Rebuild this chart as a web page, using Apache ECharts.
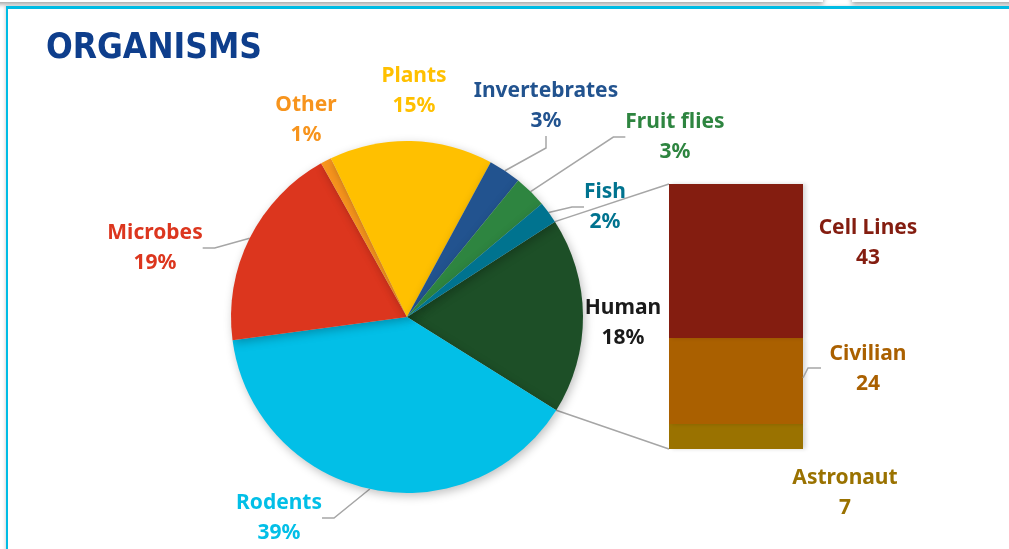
<!DOCTYPE html>
<html>
<head>
<meta charset="utf-8">
<script src="https://cdn.jsdelivr.net/npm/echarts@6/dist/echarts.min.js"></script>
<style>
  html, body { margin: 0; padding: 0; width: 1009px; height: 549px; overflow: hidden; background: #fff; }
  .shadowA { position: absolute; left: -20px; top: -20px; width: 843px; height: 22px; background: #fff; box-shadow: 0 2px 5px rgba(0,0,0,0.4); }
  .shadowB { position: absolute; left: 852px; top: -20px; width: 200px; height: 22px; background: #fff; box-shadow: 0 2px 5px rgba(0,0,0,0.4); }
  .card { position: absolute; left: 6px; top: 6px; width: 1020px; height: 560px; border-top: 3px solid #00BCE4; border-left: 2px solid #00BCE4; box-shadow: -1px 0 3px rgba(0,0,0,0.15); background: #fff; }
  #chart { position: absolute; left: 0; top: 0; width: 1009px; height: 549px; }
</style>
</head>
<body>
<div class="shadowA"></div>
<div class="shadowB"></div>
<div class="card"></div>
<div id="chart"></div>
<script>
// ---- data ----
const pieNames = ['Human', 'Rodents', 'Microbes', 'Other', 'Plants', 'Invertebrates', 'Fruit flies', 'Fish'];
const pieValues = [18, 39, 19, 1, 15, 3, 3, 2];
const barNames = ['Astronaut', 'Civilian', 'Cell Lines'];
const barValues = [7, 24, 43];
const titleText = 'ORGANISMS';

// ---- styles ----
const pieColors = ['#1D4F27', '#02BFE7', '#DC361E', '#F7941D', '#FFC000', '#22538F', '#2E8540', '#00738F'];
const pieLabelColors = ['#1a1a1a', '#02BFE7', '#DC361E', '#F7941D', '#FFC000', '#22538F', '#2E8540', '#00738F'];
const pieLeader = [false, true, true, false, false, true, true, true];
const barColors = ['#9A7200', '#AA6000', '#841D10'];
const pieLabelPos = [[623, 323], [279, 518], [155, 248], [306, 120], [414, 91], [546, 106], [675, 137], [605, 207]];
const FONT = '"Noto Sans", sans-serif';
const PIE_C = [407, 317], PIE_R = 176, START = 32.8;
const GRID = { left: 669, top: 184, width: 134, height: 265 };
const LINE = '#A6A6A6';

const chart = echarts.init(document.getElementById('chart'));

const pieData = pieNames.map((n, i) => ({
  name: n, value: pieValues[i],
  itemStyle: { color: pieColors[i] },
  label: { color: pieLabelColors[i] },
  labelLine: { show: pieLeader[i] }
}));

const barTotal = barValues.reduce((a, b) => a + b, 0);
const barLabelOffsets = [[42, 57], [65, -12], [65, -18]];

const barSeries = barNames.map((n, i) => ({
  type: 'bar', name: n, stack: 'h', barWidth: '100%',
  data: [barValues[i]],
  itemStyle: { color: barColors[i], shadowBlur: 4, shadowColor: 'rgba(0,0,0,0.15)', shadowOffsetX: 3, shadowOffsetY: 0 },
  label: {
    show: true, position: ['100%', '50%'], align: 'center', verticalAlign: 'middle',
    offset: barLabelOffsets[i],
    formatter: '{a}\n{c}', color: barColors[i], fontFamily: FONT, fontWeight: 'bold', fontSize: 21, lineHeight: 30
  },
  z: 3
}));

chart.setOption({
  animation: false,
  title: { text: titleText, left: 41, top: 26, textStyle: { fontFamily: '"DejaVu Sans Condensed", "DejaVu Sans", sans-serif', fontWeight: 'bold', fontSize: 35, color: '#0E3E8C' } },
  grid: { left: GRID.left, top: GRID.top, width: GRID.width, height: GRID.height },
  xAxis: { type: 'category', data: ['Human'], show: false },
  yAxis: { type: 'value', min: 0, max: barTotal, show: false },
  series: [
    {
      type: 'pie', center: PIE_C, radius: PIE_R, startAngle: START, clockwise: true,
      percentPrecision: 0,
      data: pieData,
      itemStyle: { shadowBlur: 10, shadowColor: 'rgba(0,0,0,0.25)', shadowOffsetX: 2, shadowOffsetY: 3 },
      label: { show: true, formatter: '{b}\n{d}%', fontFamily: FONT, fontWeight: 'bold', fontSize: 21, lineHeight: 30 },
      labelLine: { show: true, length: 12, length2: 12, lineStyle: { color: LINE, width: 1.5 } },
      labelLayout: function (p) {
        const pos = pieLabelPos[p.dataIndex];
        return { x: pos[0], y: pos[1], align: 'center', verticalAlign: 'middle' };
      },
      z: 2
    }
  ].concat(barSeries)
});

// connector lines from the Human slice boundaries to the bar corners
const pieTotal = pieValues.reduce((a, b) => a + b, 0);
const humanSpan = pieValues[0] / pieTotal * 360;
function piePt(deg) {
  const r = deg * Math.PI / 180;
  return [PIE_C[0] + PIE_R * Math.cos(r), PIE_C[1] - PIE_R * Math.sin(r)];
}
const pTop = piePt(START);
const pBot = piePt(START - humanSpan);
const yTop = chart.convertToPixel({ yAxisIndex: 0 }, barTotal);
const yBot = chart.convertToPixel({ yAxisIndex: 0 }, 0);
const xLeft = GRID.left, xRight = GRID.left + GRID.width;
// Civilian leader line: from the middle of its segment to its label
const civMid = chart.convertToPixel({ yAxisIndex: 0 }, barValues[0] + barValues[1] / 2);
chart.setOption({
  graphic: [
    { type: 'line', shape: { x1: pTop[0], y1: pTop[1], x2: xLeft, y2: yTop }, style: { stroke: LINE, lineWidth: 1.5 }, z: 1 },
    { type: 'line', shape: { x1: pBot[0], y1: pBot[1], x2: xLeft, y2: yBot }, style: { stroke: LINE, lineWidth: 1.5 }, z: 1 },
    { type: 'polyline', shape: { points: [[xRight, civMid - 3], [xRight + 5, civMid - 13], [xRight + 18, civMid - 13]] }, style: { stroke: LINE, lineWidth: 1.5, fill: null }, z: 5 }
  ]
});
</script>
</body>
</html>
